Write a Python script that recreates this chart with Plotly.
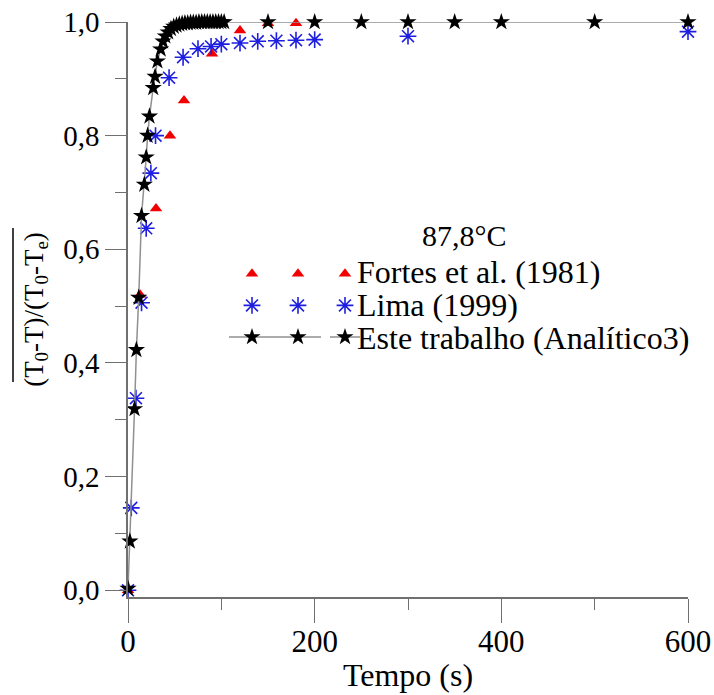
import plotly.graph_objects as go

# ---- data ----
fortes_t = [0, 13, 30, 45, 60, 90, 120, 150, 180]
fortes_v = [0.0, 0.52, 0.672, 0.80, 0.862, 0.944, 0.985, 0.998, 0.998]

lima_t = [0, 3.5, 8.5, 14.5, 19.5, 24.5, 29.5, 44, 59, 75, 89, 100, 120, 139, 159, 180, 200, 300, 600]
lima_v = [0.0, 0.145, 0.338, 0.506, 0.637, 0.734, 0.80, 0.902, 0.938, 0.953, 0.957, 0.961,
          0.963, 0.966, 0.967, 0.968, 0.969, 0.975, 0.983]

este_t = [0, 2, 7, 9, 11.5, 14.5, 17.5, 19.5, 21, 23, 27, 29, 31.5, 35, 37.5, 40, 43, 46, 49, 52,
          55, 58, 61, 64, 67, 70, 73, 76, 79, 82, 85, 88, 91, 94, 97, 100, 103,
          150, 200, 250, 300, 350, 400, 500, 600]
este_v = [0.003, 0.086, 0.319, 0.423, 0.515, 0.659, 0.714, 0.762, 0.80, 0.834, 0.884, 0.904, 0.931,
          0.952, 0.966, 0.975, 0.982, 0.988, 0.992, 0.994, 0.996, 0.997, 0.998, 0.998, 0.999,
          0.999, 0.999, 1.0, 1.0, 1.0, 1.0, 1.0, 1.0, 1.0, 1.0, 1.0, 1.0,
          1.0, 1.0, 1.0, 1.0, 1.0, 1.0, 1.0, 1.0]

names = ["Fortes et al. (1981)", "Lima (1999)", "Este trabalho (Analítico3)"]
legend_title = "87,8°C"
x_ticks = [0, 200, 400, 600]
y_ticks = [0.0, 0.2, 0.4, 0.6, 0.8, 1.0]

FONT = "Liberation Serif"
RED = "#f00000"
BLUE = "#1e1ee0"
AXIS = "#707070"

red_marker = dict(symbol="triangle-up", size=11, color=RED, line=dict(width=0))
blue_marker = dict(symbol="asterisk-open", size=14, color=BLUE, line=dict(width=1.6, color=BLUE))
star_marker = dict(symbol="star", size=13, color="black", line=dict(width=0))
star_line = dict(color="#909090", width=1.5)

fig = go.Figure()

# legend-only copies (first two symbol columns of the legend)
for lg in ["legend", "legend2"]:
    fig.add_trace(go.Scatter(x=[None], y=[None], mode="markers", marker=red_marker,
                             name=" ", legend=lg))
    fig.add_trace(go.Scatter(x=[None], y=[None], mode="markers", marker=blue_marker,
                             name=" ", legend=lg))
    fig.add_trace(go.Scatter(x=[None], y=[None], mode="lines+markers", marker=star_marker,
                             line=star_line, name=" ", legend=lg))

# real data (third legend column; names written as annotations beside it)
fig.add_trace(go.Scatter(x=fortes_t, y=fortes_v, mode="markers", marker=red_marker,
                         name=" ", legend="legend3", cliponaxis=False))
fig.add_trace(go.Scatter(x=lima_t, y=lima_v, mode="markers", marker=blue_marker,
                         name=" ", legend="legend3", cliponaxis=False))
fig.add_trace(go.Scatter(x=este_t, y=este_v, mode="lines+markers", marker=star_marker,
                         line=star_line, name=" ", legend="legend3", cliponaxis=False))

L, R, T, B = 128, 26, 22, 98
W, H = 714, 695
pw, ph = W - L - R, H - T - B

def px_x(p):
    return (p - L) / pw

def px_y(p):
    return 1 - (p - T) / ph

leg_common = dict(bgcolor="rgba(0,0,0,0)", borderwidth=0, font=dict(family=FONT, size=22, color="black"),
                  xanchor="left", yanchor="top", traceorder="normal", tracegroupgap=0)

row_y = [272, 305, 338]
annotations = [dict(text=legend_title, x=px_x(464), y=px_y(235), xref="paper", yref="paper",
                    xanchor="center", yanchor="middle", showarrow=False,
                    font=dict(family=FONT, size=30, color="black"))]
for nm, yy in zip(names, row_y):
    annotations.append(dict(text=nm, x=px_x(355), y=px_y(yy), xref="paper", yref="paper",
                            xanchor="left", yanchor="middle", showarrow=False,
                            font=dict(family=FONT, size=32, color="black")))

fig.update_layout(
    width=W, height=H,
    margin=dict(l=L, r=R, t=T, b=B, autoexpand=False),
    paper_bgcolor="white", plot_bgcolor="white",
    separators=",.",
    font=dict(family=FONT, size=28, color="black"),
    showlegend=True,
    legend=dict(x=px_x(224), y=px_y(253), itemwidth=46, **leg_common),
    legend2=dict(x=px_x(270), y=px_y(253), itemwidth=46, **leg_common),
    legend3=dict(x=px_x(325), y=px_y(253), **leg_common),
    xaxis=dict(
        range=[0, 600], tickvals=x_ticks, ticks="outside", ticklen=24, tickwidth=1.3,
        tickcolor=AXIS, showline=True, linecolor=AXIS, linewidth=1.5, showgrid=False,
        zeroline=False, automargin=False, ticklabelstandoff=-8,
        tickfont=dict(family=FONT, size=31, color="black"),
        minor=dict(dtick=100, tick0=0, ticks="outside", ticklen=11, tickcolor=AXIS, tickwidth=1.3, showgrid=False),
        title=dict(text="Tempo (s)", font=dict(family=FONT, size=32, color="black"), standoff=6),
    ),
    yaxis=dict(
        range=[-0.0118, 1.0], tickvals=y_ticks, tickformat=".1f", ticks="outside", ticklen=21,
        tickwidth=1.3, tickcolor=AXIS, showline=True, linecolor=AXIS, linewidth=1.5,
        showgrid=False, zeroline=False, automargin=False, tickfont=dict(family=FONT, size=29, color="black"),
        minor=dict(dtick=0.1, tick0=0, ticks="outside", ticklen=11, tickcolor=AXIS, tickwidth=1.3, showgrid=False),
        title=dict(text="(T<sub>0</sub>-T)/(T<sub>0</sub>-T<sub>e</sub>)",
                   font=dict(family=FONT, size=27, color="black"), standoff=12),
    ),
    annotations=annotations,
    shapes=[dict(type="line", xref="paper", yref="paper", x0=px_x(13), x1=px_x(13),
                 y0=px_y(228), y1=px_y(382), line=dict(color="black", width=1.5))],
)

fig.write_html("out.html")
